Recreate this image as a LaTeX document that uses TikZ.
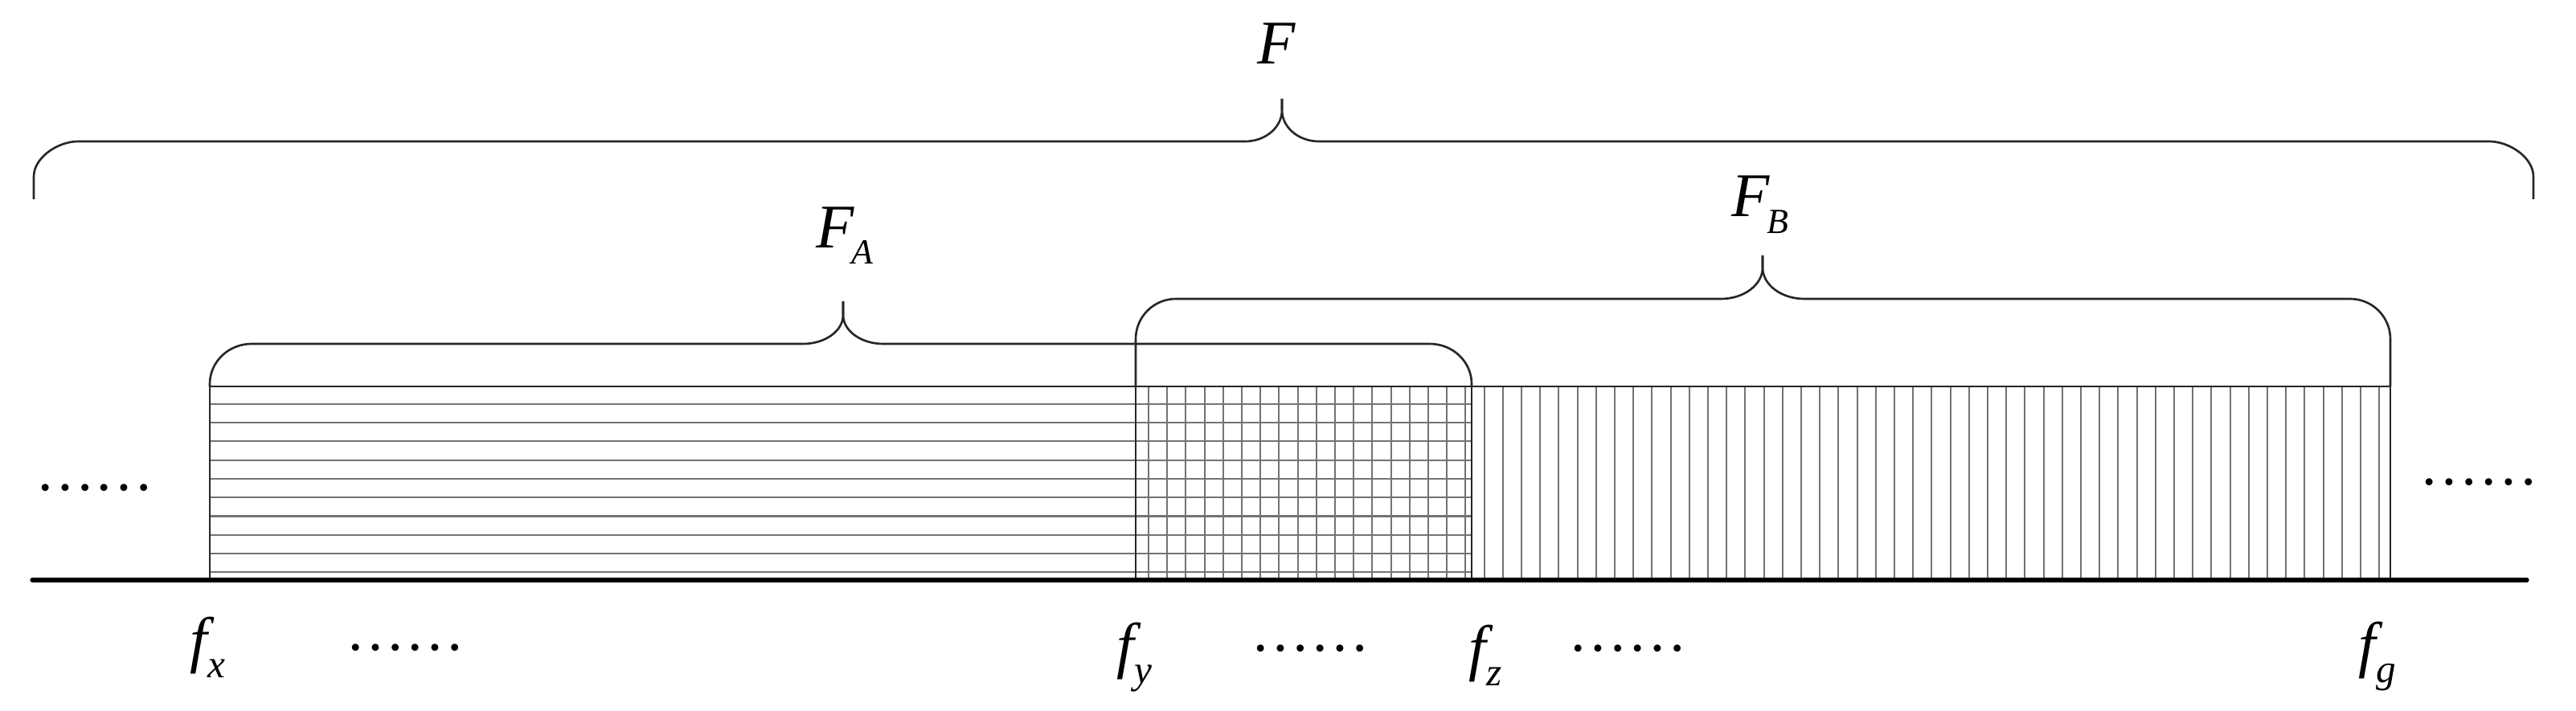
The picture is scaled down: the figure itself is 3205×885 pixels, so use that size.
\documentclass[tikz,border=0pt]{standalone}
\usepackage{fontspec}
\setmainfont{Liberation Serif}[ItalicFont={Liberation Serif Italic}]
\begin{document}
\begin{tikzpicture}[x=0.01cm,y=-0.01cm,
  bracel/.style={line width=0.75pt, black!85, line join=round},
  edge/.style={line width=0.7pt, black!85},
  hatch/.style={line width=0.6pt, black!55},
  axis/.style={line width=1.5pt, line cap=round},
  lab/.style={inner sep=0pt, font=\fontsize{22}{22}\selectfont\itshape},
  dotsl/.style={inner sep=0pt, font=\fontsize{21}{21}\selectfont}]
\useasboundingbox (0,0) rectangle (3205,885);
% hatching
\foreach \k in {0,...,9} \draw[hatch] (261,{502.7+23.3*\k}) -- (1831,{502.7+23.3*\k});
\foreach \k in {0,...,66} \draw[hatch] ({1429+23.2*\k},481) -- ({1429+23.2*\k},722);
% outline of bands
\draw[edge] (261,722) -- (261,481) -- (2974,481) -- (2974,722);
\draw[edge] (1413,481) -- (1413,722);
\draw[edge] (1831,481) -- (1831,722);
% axis
\coordinate (axL) at (40,722);
\coordinate (axR) at (3144,722);
\draw[axis] (axL) -- (axR);
% brace F
\draw[bracel] (42,248) -- (42,220) .. controls (42,195.7) and (72.6,176) .. (97,176) -- (1549,176) .. controls (1574.4,176) and (1595,158.5) .. (1595,137) -- (1595,123);
\draw[bracel] (3152,248) -- (3152,220) .. controls (3152,195.7) and (3121.6,176) .. (3097,176) -- (1641,176) .. controls (1615.6,176) and (1595,158.5) .. (1595,137) -- (1595,123);
% brace F_A
\draw[bracel] (261,481) -- (261,478) .. controls (261,450.4) and (284.3,428) .. (313,428) -- (999,428) .. controls (1026.6,428) and (1049,411.9) .. (1049,392) -- (1049,375);
\draw[bracel] (1831,481) -- (1831,478) .. controls (1831,450.4) and (1807.7,428) .. (1779,428) -- (1099,428) .. controls (1071.4,428) and (1049,411.9) .. (1049,392) -- (1049,375);
% brace F_B
\draw[bracel] (1413,481) -- (1413,422) .. controls (1413,394.4) and (1435.4,372) .. (1463,372) -- (2141,372) .. controls (2169.7,372) and (2193,354.5) .. (2193,333) -- (2193,318);
\draw[bracel] (2974,481) -- (2974,422) .. controls (2974,394.4) and (2951.6,372) .. (2924,372) -- (2245,372) .. controls (2216.3,372) and (2193,354.5) .. (2193,333) -- (2193,318);
% labels
\node[lab, anchor=base] (F) at (1588,80) {F};
\node[lab, anchor=base west] (FA) at (1015,308) {F\kern-0.04em\raisebox{-0.2cm}{\fontsize{12.5}{12.5}\selectfont A}};
\node[lab, anchor=base west] (FB) at (2154,270) {F\kern-0.04em\raisebox{-0.2cm}{\fontsize{12.5}{12.5}\selectfont B}};
\node[lab, anchor=base west] (fx) at (236,822) {f\raisebox{-0.21cm}{\fontsize{14}{14}\selectfont x}};
\node[lab, anchor=base west] (fy) at (1389,829) {f\raisebox{-0.21cm}{\fontsize{14}{14}\selectfont y}};
\node[lab, anchor=base west] (fz) at (1827,832) {f\raisebox{-0.21cm}{\fontsize{14}{14}\selectfont z}};
\node[lab, anchor=base west] (fg) at (2934,828) {f\raisebox{-0.21cm}{\fontsize{14}{14}\selectfont g}};
% dots
\node[dotsl] (d1) at (118,607) {……};
\node[dotsl] (d2) at (504,806) {……};
\node[dotsl] (d3) at (1630,807) {……};
\node[dotsl] (d4) at (2025,807) {……};
\node[dotsl] (d5) at (3084,600) {……};
\end{tikzpicture}
\end{document}
